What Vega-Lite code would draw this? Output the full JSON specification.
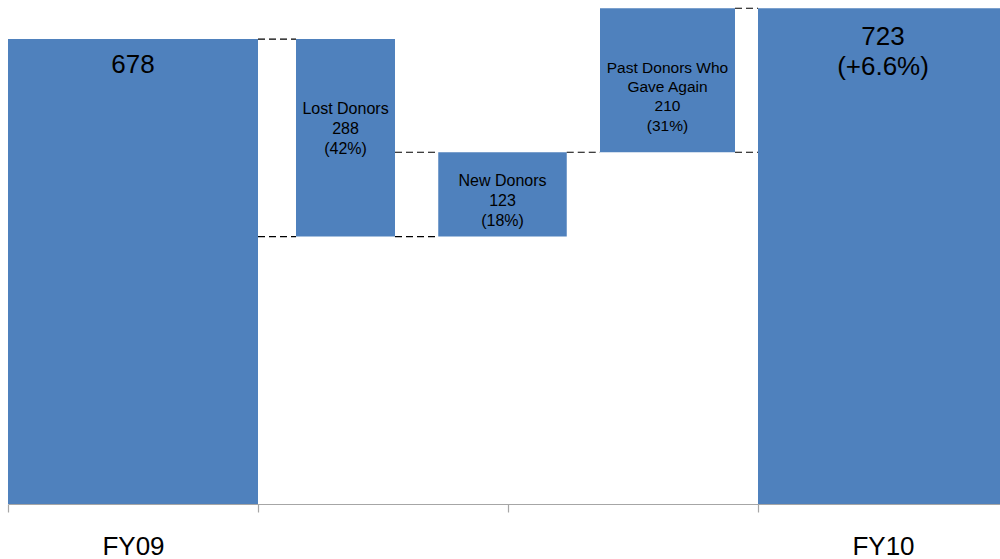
{
  "$schema": "https://vega.github.io/schema/vega-lite/v6.json",
  "width": 992,
  "height": 504,
  "autosize": {"type": "none"},
  "padding": {"left": 8, "top": 0, "right": 0, "bottom": 55},
  "background": "white",
  "config": {"view": {"stroke": null}, "font": "Liberation Sans", "axisY": {"disable": true}},
  "datasets": {
    "bars": [
      {"step": "FY09", "start": 0, "end": 678, "x0": 0, "x1": 1, "label": "678"},
      {"step": "Lost Donors", "start": 390, "end": 678, "x0": 1.152, "x1": 1.548, "label": "Lost Donors\n288\n(42%)"},
      {"step": "New Donors", "start": 390, "end": 513, "x0": 1.721, "x1": 2.235, "label": "New Donors\n123\n(18%)"},
      {"step": "Past Donors Who Gave Again", "start": 513, "end": 723, "x0": 2.368, "x1": 2.908, "label": "Past Donors Who\nGave Again\n210\n(31%)"},
      {"step": "FY10", "start": 0, "end": 723, "x0": 3, "x1": 4, "label": "723\n(+6.6%)"}
    ],
    "links": [
      {"from": "FY09", "to": "Lost Donors", "level": 678},
      {"from": "FY09", "to": "Lost Donors", "level": 390},
      {"from": "Lost Donors", "to": "New Donors", "level": 390},
      {"from": "Lost Donors", "to": "New Donors", "level": 513},
      {"from": "New Donors", "to": "Past Donors Who Gave Again", "level": 513},
      {"from": "Past Donors Who Gave Again", "to": "FY10", "level": 723},
      {"from": "Past Donors Who Gave Again", "to": "FY10", "level": 513}
    ]
  },
  "layer": [
    {
      "data": {"name": "bars"},
      "mark": {"type": "rect", "color": "#4F81BD"},
      "encoding": {
        "x": {
          "field": "x0", "type": "quantitative", "title": null,
          "scale": {"domain": [0, 3.968], "nice": false, "zero": false},
          "axis": {
            "values": [0, 0.5, 1, 2, 3, 3.5],
            "labelExpr": "datum.value == 0.5 ? 'FY09' : datum.value == 3.5 ? 'FY10' : ''",
            "tickOpacity": {"condition": {"test": "datum.value == 0.5 || datum.value == 3.5", "value": 0}, "value": 1},
            "domainColor": "#a6a6a6",
            "domainWidth": 1.2,
            "tickColor": "#a6a6a6",
            "tickWidth": 1.2,
            "tickSize": 8,
            "labelFontSize": 26,
            "labelColor": "#000000",
            "labelFont": "Liberation Sans",
            "labelPadding": 21,
            "labelFlush": false,
            "labelOverlap": false,
            "grid": false,
            "title": null
          }
        },
        "x2": {"field": "x1"},
        "y": {"field": "start", "type": "quantitative", "title": null, "scale": {"domain": [0, 735], "nice": false}, "axis": null},
        "y2": {"field": "end"}
      }
    },
    {
      "data": {"name": "links"},
      "transform": [
        {"lookup": "from", "from": {"data": {"name": "bars"}, "key": "step", "fields": ["x1"]}, "as": ["linkStart"]},
        {"lookup": "to", "from": {"data": {"name": "bars"}, "key": "step", "fields": ["x0"]}, "as": ["linkEnd"]}
      ],
      "mark": {"type": "rule", "color": "#000000", "strokeWidth": 1.2, "strokeDash": [7, 4]},
      "encoding": {
        "x": {"field": "linkStart", "type": "quantitative", "title": null},
        "x2": {"field": "linkEnd"},
        "y": {"field": "level", "type": "quantitative", "title": null, "axis": null}
      }
    },
    {
      "data": {"name": "bars"},
      "transform": [{"filter": "datum.step == 'FY09'"}, {"calculate": "(datum.x0 + datum.x1) / 2", "as": "mid"}],
      "mark": {"type": "text", "fontSize": 26, "align": "center", "baseline": "alphabetic", "dy": 34, "color": "#000000"},
      "encoding": {
        "x": {"field": "mid", "type": "quantitative", "title": null},
        "y": {"field": "end", "type": "quantitative", "title": null, "axis": null},
        "text": {"field": "label", "type": "nominal"}
      }
    },
    {
      "data": {"name": "bars"},
      "transform": [{"filter": "datum.step == 'FY10'"}, {"calculate": "(datum.x0 + datum.x1) / 2", "as": "mid"}],
      "mark": {"type": "text", "fontSize": 26, "align": "center", "baseline": "alphabetic", "dy": 37, "lineBreak": "\n", "lineHeight": 30, "color": "#000000"},
      "encoding": {
        "x": {"field": "mid", "type": "quantitative", "title": null},
        "y": {"field": "end", "type": "quantitative", "title": null, "axis": null},
        "text": {"field": "label", "type": "nominal"}
      }
    },
    {
      "data": {"name": "bars"},
      "transform": [{"filter": "datum.step == 'Lost Donors'"}, {"calculate": "(datum.x0 + datum.x1) / 2", "as": "mid"}],
      "mark": {"type": "text", "fontSize": 16, "align": "center", "baseline": "alphabetic", "dy": 75, "lineBreak": "\n", "lineHeight": 20, "color": "#000000"},
      "encoding": {
        "x": {"field": "mid", "type": "quantitative", "title": null},
        "y": {"field": "end", "type": "quantitative", "title": null, "axis": null},
        "text": {"field": "label", "type": "nominal"}
      }
    },
    {
      "data": {"name": "bars"},
      "transform": [{"filter": "datum.step == 'New Donors'"}, {"calculate": "(datum.x0 + datum.x1) / 2", "as": "mid"}],
      "mark": {"type": "text", "fontSize": 16, "align": "center", "baseline": "alphabetic", "dy": 34, "lineBreak": "\n", "lineHeight": 20, "color": "#000000"},
      "encoding": {
        "x": {"field": "mid", "type": "quantitative", "title": null},
        "y": {"field": "end", "type": "quantitative", "title": null, "axis": null},
        "text": {"field": "label", "type": "nominal"}
      }
    },
    {
      "data": {"name": "bars"},
      "transform": [{"filter": "datum.step == 'Past Donors Who Gave Again'"}, {"calculate": "(datum.x0 + datum.x1) / 2", "as": "mid"}],
      "mark": {"type": "text", "fontSize": 15.5, "align": "center", "baseline": "alphabetic", "dy": 64.5, "lineBreak": "\n", "lineHeight": 19.3, "color": "#000000"},
      "encoding": {
        "x": {"field": "mid", "type": "quantitative", "title": null},
        "y": {"field": "end", "type": "quantitative", "title": null, "axis": null},
        "text": {"field": "label", "type": "nominal"}
      }
    }
  ]
}
